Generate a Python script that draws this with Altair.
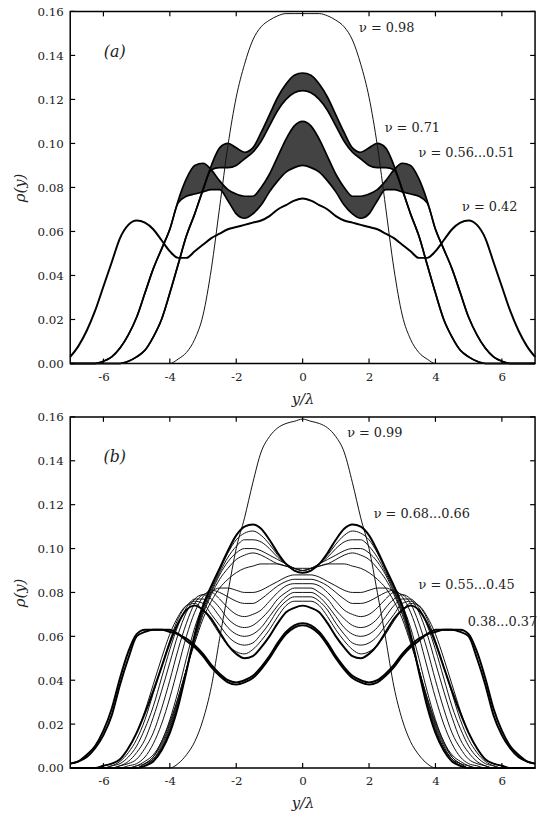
import altair as alt
import pandas as pd

# Half profiles rho(y) sampled at y/lambda = 0, 0.25, ..., 7 (profiles are symmetric in y)
Y_HALF = [i * 0.25 for i in range(29)]

# ---- panel (a) ----
A98 = [.159, .159, .159, .158, .156, .153, .147, .136, .121, .099, .071, .043, .022, .011, .005, .002,
       0, 0, 0, 0, 0, 0, 0, 0, 0, 0, 0, 0, 0]
A71_HI = [.132, .131, .127, .121, .113, .105, .098, .096, .098, .100, .098, .090, .079, .068, .058, .045,
          .032, .020, .012, .006, .003, .001, 0, 0, 0, 0, 0, 0, 0]
A71_LO = [.124, .123, .120, .115, .108, .101, .096, .093, .090, .089, .089, .088, .079, .068, .058, .045,
          .032, .020, .012, .006, .003, .001, 0, 0, 0, 0, 0, 0, 0]
A56_HI = [.110, .108, .102, .094, .086, .080, .076, .076, .077, .079, .083, .088, .091, .090, .084, .074,
          .061, .052, .043, .032, .021, .013, .007, .003, .001, 0, 0, 0, 0]
A56_LO = [.090, .089, .087, .083, .078, .072, .068, .066, .068, .074, .079, .079, .078, .077, .076, .073,
          .061, .052, .043, .032, .021, .013, .007, .003, .001, 0, 0, 0, 0]
A42 = [.075, .074, .072, .070, .067, .065, .064, .063, .062, .061, .059, .057, .054, .051, .048, .048,
       .051, .056, .061, .064, .065, .063, .057, .046, .035, .024, .015, .008, .003]

# ---- panel (b) ----
B99 = [.159, .158, .157, .155, .151, .144, .130, .114, .100, .080, .059, .037, .022, .012, .006, .002,
       0, 0, 0, 0, 0, 0, 0, 0, 0, 0, 0, 0, 0]
# nu = 0.68 ... 0.66
E1 = [.089, .090, .093, .098, .104, .109, .111, .110, .106, .099, .091, .083, .074, .061, .044, .028,
      .016, .008, .003, .001, 0, 0, 0, 0, 0, 0, 0, 0, 0]
E2 = [.089, .090, .093, .097, .102, .106, .108, .107, .104, .098, .090, .082, .073, .060, .044, .029,
      .017, .009, .004, .001, 0, 0, 0, 0, 0, 0, 0, 0, 0]
E3 = [.090, .091, .093, .096, .100, .103, .104, .104, .101, .096, .089, .081, .072, .060, .045, .030,
      .018, .009, .004, .001, 0, 0, 0, 0, 0, 0, 0, 0, 0]
E4 = [.090, .091, .093, .095, .097, .099, .100, .100, .098, .094, .088, .080, .071, .059, .045, .031,
      .019, .010, .004, .002, 0, 0, 0, 0, 0, 0, 0, 0, 0]
E5 = [.090, .091, .092, .093, .095, .097, .098, .097, .095, .091, .086, .079, .070, .058, .045, .032,
      .020, .011, .005, .002, 0, 0, 0, 0, 0, 0, 0, 0, 0]
E6 = [.091, .091, .092, .093, .093, .093, .092, .091, .089, .086, .082, .076, .068, .057, .045, .032,
      .021, .012, .005, .002, .001, 0, 0, 0, 0, 0, 0, 0, 0]
# nu = 0.55 ... 0.45
F1 = [.088, .088, .087, .085, .083, .081, .080, .080, .081, .082, .082, .080, .074, .064, .050, .035,
      .022, .012, .006, .003, .001, 0, 0, 0, 0, 0, 0, 0, 0]
F2 = [.086, .086, .085, .083, .080, .077, .075, .075, .076, .078, .080, .081, .078, .071, .060, .046,
      .032, .020, .011, .005, .002, .001, 0, 0, 0, 0, 0, 0, 0]
F3 = [.084, .084, .083, .080, .076, .072, .070, .069, .070, .073, .077, .080, .079, .075, .066, .054,
      .040, .027, .016, .009, .004, .002, .001, 0, 0, 0, 0, 0, 0]
F4 = [.082, .082, .080, .077, .072, .068, .065, .064, .065, .068, .073, .077, .079, .077, .071, .061,
      .048, .035, .023, .013, .007, .003, .001, 0, 0, 0, 0, 0, 0]
F5 = [.080, .080, .078, .074, .069, .064, .061, .060, .061, .064, .069, .074, .077, .077, .073, .065,
      .054, .041, .028, .018, .010, .005, .002, .001, 0, 0, 0, 0, 0]
F6 = [.078, .078, .076, .072, .066, .061, .057, .056, .057, .060, .065, .070, .075, .076, .074, .068,
      .058, .046, .034, .022, .013, .007, .003, .001, 0, 0, 0, 0, 0]
F7 = [.076, .076, .074, .069, .063, .058, .054, .052, .053, .056, .061, .067, .072, .075, .074, .069,
      .061, .050, .038, .026, .016, .009, .004, .002, .001, 0, 0, 0, 0]
F8 = [.074, .073, .071, .066, .060, .055, .051, .050, .052, .056, .062, .068, .072, .074, .072, .066,
      .057, .046, .035, .025, .016, .009, .004, .002, .001, 0, 0, 0, 0]
# nu = 0.38 ... 0.37
G1 = [.066, .065, .062, .057, .051, .046, .042, .040, .039, .040, .043, .047, .052, .056, .059, .061,
      .063, .063, .063, .062, .060, .050, .038, .024, .015, .009, .005, .003, .002]
G2 = [.065, .064, .061, .056, .050, .045, .041, .039, .038, .039, .042, .046, .051, .055, .058, .061,
      .062, .063, .063, .063, .061, .053, .041, .027, .017, .010, .006, .003, .002]

NOTES_A = [("ν = 0.98", 1.70, 0.1524), ("ν = 0.71", 2.47, 0.107),
           ("ν = 0.56...0.51", 3.49, 0.0957), ("ν = 0.42", 4.80, 0.071)]
NOTES_B = [("ν = 0.99", 1.34, 0.1528), ("ν = 0.68...0.66", 2.14, 0.1158),
           ("ν = 0.55...0.45", 3.49, 0.0834), ("0.38...0.37", 4.97, 0.0663)]

X_TICKS = [-6, -4, -2, 0, 2, 4, 6]
Y_TICKS = [0.0, 0.02, 0.04, 0.06, 0.08, 0.10, 0.12, 0.14, 0.16]

SERIF = "DejaVu Serif"
W = 470


def mirror(half):
    return half[:0:-1] + half


X_FULL = [-v for v in Y_HALF[:0:-1]] + Y_HALF


def line_frame(curves):
    rows = []
    for name, half in curves.items():
        for x, r in zip(X_FULL, mirror(half)):
            rows.append({"curve": name, "x": x, "rho": r})
    return pd.DataFrame(rows)


def band_frame(bands):
    rows = []
    for name, (lo, hi) in bands.items():
        for x, a, b in zip(X_FULL, mirror(lo), mirror(hi)):
            rows.append({"fam": name, "x": x, "lo": a, "hi": b})
    return pd.DataFrame(rows)


XS = alt.Scale(domain=[-7, 7], nice=False, zero=False)
YS = alt.Scale(domain=[0, 0.16], nice=False, zero=False)
X_AXIS = alt.Axis(values=X_TICKS, ticks=False, domain=False, grid=False,
                  labelFont=SERIF, labelFontSize=12, labelPadding=8,
                  labelExpr="'' + datum.value", labelColor="#222",
                  title="y/λ", titleFont=SERIF, titleFontStyle="italic",
                  titleFontSize=15, titleFontWeight="normal", titlePadding=9,
                  titleColor="#222")
Y_AXIS = alt.Axis(values=Y_TICKS, format=".2f", ticks=False, domain=False, grid=False,
                  labelFont=SERIF, labelFontSize=12, labelPadding=7, labelColor="#222",
                  title="ρ(y)", titleFont=SERIF, titleFontStyle="italic",
                  titleFontSize=15, titleFontWeight="normal", titlePadding=10,
                  titleColor="#222")


def xq(field):
    return alt.X(field, type="quantitative", scale=XS, axis=X_AXIS)


def yq(field):
    return alt.Y(field, type="quantitative", scale=YS, axis=Y_AXIS)


def panel(curves, thick, bands, notes, tag, tag_pos, H):
    ldf = line_frame(curves)
    thin_names = [n for n in curves if n not in thick]
    layers = []

    if bands:
        bdf = band_frame(bands)
        area = alt.Chart(bdf).mark_area(interpolate="monotone", color="#333333",
                                        opacity=0.92).encode(
            x=xq("x"), y=yq("lo"), y2="hi:Q", detail="fam:N")
        edge_lo = alt.Chart(bdf).mark_line(interpolate="monotone", color="black",
                                           strokeWidth=1.7).encode(
            x=xq("x"), y=yq("lo"), detail="fam:N")
        edge_hi = alt.Chart(bdf).mark_line(interpolate="monotone", color="black",
                                           strokeWidth=1.7).encode(
            x=xq("x"), y=yq("hi"), detail="fam:N")
        layers += [area, edge_lo, edge_hi]

    thin = alt.Chart(ldf).transform_filter(
        alt.FieldOneOfPredicate(field="curve", oneOf=thin_names)
    ).mark_line(interpolate="monotone", color="#111", strokeWidth=1.0).encode(
        x=xq("x"), y=yq("rho"), detail="curve:N")
    layers.append(thin)

    if thick:
        thick_lines = alt.Chart(ldf).transform_filter(
            alt.FieldOneOfPredicate(field="curve", oneOf=thick)
        ).mark_line(interpolate="monotone", color="black", strokeWidth=2.0).encode(
            x=xq("x"), y=yq("rho"), detail="curve:N")
        layers.append(thick_lines)

    ndf = pd.DataFrame(notes, columns=["label", "x", "y"])
    text = alt.Chart(ndf).mark_text(align="left", baseline="middle", font=SERIF,
                                    fontSize=13, color="#222").encode(
        x=xq("x"), y=yq("y"), text="label:N")
    tdf = pd.DataFrame([{"label": tag, "x": tag_pos[0], "y": tag_pos[1]}])
    tag_text = alt.Chart(tdf).mark_text(align="center", baseline="middle", font=SERIF,
                                        fontSize=16, fontStyle="italic", color="#222").encode(
        x=xq("x"), y=yq("y"), text="label:N")
    layers += [text, tag_text]

    # inward tick marks on all four sides of the frame
    xt = pd.DataFrame({"x": X_TICKS})
    yt = pd.DataFrame({"y": Y_TICKS})
    tick = dict(color="black", strokeWidth=1.2)
    layers += [
        alt.Chart(xt).mark_rule(**tick).encode(x=xq("x"), y=alt.value(H), y2=alt.value(H - 5)),
        alt.Chart(xt).mark_rule(**tick).encode(x=xq("x"), y=alt.value(0), y2=alt.value(5)),
        alt.Chart(yt).mark_rule(**tick).encode(y=yq("y"), x=alt.value(0), x2=alt.value(5)),
        alt.Chart(yt).mark_rule(**tick).encode(y=yq("y"), x=alt.value(W), x2=alt.value(W - 5)),
    ]
    return alt.layer(*layers).properties(width=W, height=H)


curves_a = {"0.98": A98, "0.42": A42}
bands_a = {"0.71": (A71_LO, A71_HI), "0.56-0.51": (A56_LO, A56_HI)}
curves_b = {"0.99": B99, "E1": E1, "E2": E2, "E3": E3, "E4": E4, "E5": E5, "E6": E6,
            "F1": F1, "F2": F2, "F3": F3, "F4": F4, "F5": F5, "F6": F6, "F7": F7, "F8": F8,
            "G1": G1, "G2": G2}

top = panel(curves_a, ["0.42"], bands_a, NOTES_A, "(a)", (-5.66, 0.1415), 356)
bottom = panel(curves_b, ["E1", "F8", "G1", "G2"], None, NOTES_B, "(b)", (-5.66, 0.1415), 355)

chart = alt.vconcat(top, bottom, spacing=54, bounds="flush").properties(
    padding={"left": 11, "top": 0, "right": 0, "bottom": 0},
).configure_view(stroke="black", strokeWidth=1.5)

chart.save("out.html", embed_options={"renderer": "svg", "actions": False})
